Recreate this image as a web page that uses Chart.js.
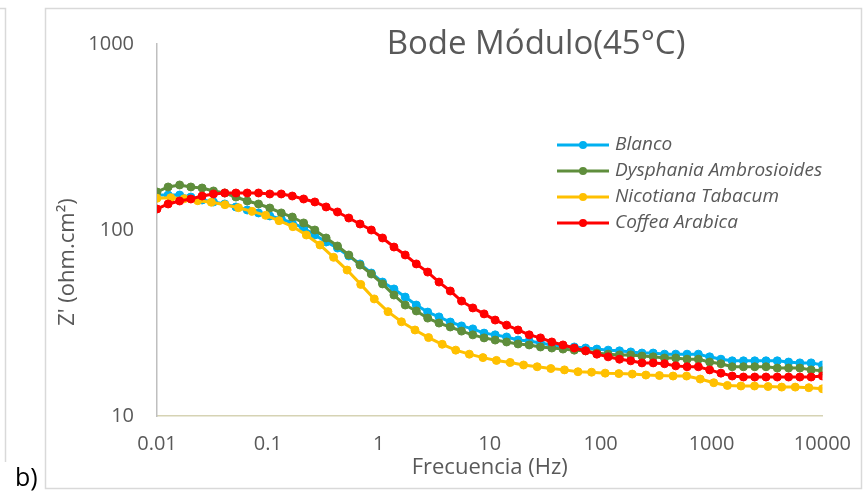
<!DOCTYPE html>
<html>
<head>
<meta charset="utf-8">
<script src="https://cdn.jsdelivr.net/npm/chart.js@4.4.0/dist/chart.umd.min.js"></script>
<style>
  html, body { margin: 0; padding: 0; background: #fff; }
  #wrap { width: 867px; height: 493px; }
</style>
</head>
<body>
<div id="wrap"><canvas id="bode" width="867" height="493"></canvas></div>
<script>
// frequency sweep (Hz), 60 points for Blanco / Dysphania / Coffea
const freq = [0.01, 0.0126, 0.016, 0.0202, 0.0255, 0.0323, 0.0408, 0.0515, 0.0651, 0.0823,
  0.104, 0.132, 0.166, 0.21, 0.265, 0.335, 0.424, 0.536, 0.677, 0.856,
  1.08, 1.37, 1.73, 2.18, 2.76, 3.49, 4.41, 5.57, 7.04, 8.9,
  11.2, 14.2, 18, 22.7, 28.7, 36.3, 45.8, 57.9, 73.2, 92.5,
  117, 148, 187, 236, 298, 377, 476, 602, 761, 962,
  1216, 1536, 1941, 2454, 3101, 3919, 4953, 6260, 7911, 10000];

// Nicotiana was measured with 50 points
const freqNt = [0.01, 0.0133, 0.0176, 0.0233, 0.0309, 0.041, 0.0543, 0.072, 0.0954, 0.126,
  0.168, 0.222, 0.295, 0.391, 0.518, 0.687, 0.91, 1.21, 1.6, 2.12,
  2.81, 3.73, 4.94, 6.55, 8.69, 11.5, 15.3, 20.2, 26.8, 35.6,
  47.2, 62.5, 82.9, 110, 146, 193, 256, 339, 450, 596,
  791, 1048, 1390, 1842, 2442, 3237, 4292, 5690, 7543, 10000];

const blanco = [154.2, 154.2, 154.2, 150.4, 145.0, 141.5, 138.0, 133.0, 128.1, 123.5,
  119.0, 114.6, 109.1, 102.5, 94.0, 86.2, 80.0, 72.5, 65.7, 58.7,
  52.5, 48.2, 43.6, 39.5, 36.2, 34.1, 32.0, 30.5, 29.4, 27.9,
  27.3, 26.6, 25.6, 25.3, 24.7, 24.1, 23.8, 23.5, 23.2, 22.9,
  22.6, 22.4, 22.1, 21.8, 21.8, 21.5, 21.5, 21.5, 21.5, 20.8,
  20.2, 19.8, 19.8, 19.8, 19.8, 19.8, 19.5, 19.3, 19.3, 18.8];

const dysphania = [160.1, 170.3, 174.6, 170.3, 168.2, 162.1, 158.1, 150.4, 143.2, 138.0,
  131.3, 123.5, 117.4, 109.1, 100.0, 90.6, 82.0, 73.4, 64.8, 58.0,
  51.3, 44.7, 39.5, 36.7, 33.6, 31.6, 30.1, 28.6, 27.3, 26.3,
  25.6, 25.0, 24.4, 24.1, 23.5, 23.2, 22.9, 22.6, 22.4, 21.8,
  21.5, 21.3, 21.3, 21.0, 20.8, 20.5, 20.5, 20.2, 20.2, 19.5,
  19.1, 18.4, 18.4, 18.4, 18.4, 18.1, 18.1, 18.1, 17.7, 17.5];

const nicotiana = [148.1, 149.2, 147.3, 143.7, 141.0, 136.8, 131.8, 126.0, 119.9, 112.2,
  104.2, 94.0, 83.1, 71.3, 60.9, 51.0, 42.6, 36.4, 32.1, 29.0,
  26.4, 24.3, 22.6, 21.5, 20.6, 19.9, 19.4, 18.8, 18.4, 18.0,
  17.7, 17.3, 17.2, 17.0, 16.9, 16.8, 16.6, 16.5, 16.4, 16.4,
  15.8, 15.1, 14.6, 14.5, 14.5, 14.4, 14.3, 14.3, 14.2, 14.0];

const coffea = [129.7, 138.0, 143.2, 146.8, 152.3, 156.2, 158.1, 158.1, 158.1, 158.1,
  156.2, 156.2, 152.3, 146.8, 141.5, 133.0, 125.0, 116.0, 107.7, 100.0,
  90.6, 81.0, 73.4, 65.7, 59.4, 52.5, 47.0, 41.5, 38.1, 35.4,
  32.8, 30.8, 29.0, 27.3, 26.3, 25.0, 24.1, 23.2, 22.4, 21.5,
  20.8, 20.2, 19.8, 19.3, 19.3, 19.1, 18.6, 18.4, 18.4, 17.7,
  17.0, 16.4, 16.2, 16.2, 16.2, 16.2, 16.2, 16.2, 16.2, 16.4];

const seriesNames = ['Blanco', 'Dysphania Ambrosioides', 'Nicotiana Tabacum', 'Coffea Arabica'];

const xTicks = [0.01, 0.1, 1, 10, 100, 1000, 10000];
const xTickLabels = ['0.01', '0.1', '1', '10', '100', '1000', '10000'];
const yTicks = [10, 100, 1000];
const yTickLabels = ['10', '100', '1000'];

const gray = '#595959';
const family = "'Open Sans', sans-serif";

function toPoints(xs, ys) {
  return ys.map((y, i) => ({ x: xs[i], y: y }));
}

function makeSet(label, xs, ys, color, order) {
  return {
    label: label,
    data: toPoints(xs, ys),
    borderColor: color,
    backgroundColor: color,
    borderWidth: 3,
    pointRadius: 4,
    pointBorderWidth: 1,
    pointBackgroundColor: color,
    pointBorderColor: color,
    tension: 0,
    order: order
  };
}

// frames, titles, legend and panel letter
const decor = {
  id: 'decor',
  beforeDraw(chart) {
    const ctx = chart.ctx;
    ctx.save();
    ctx.fillStyle = '#fff';
    ctx.fillRect(0, 0, chart.width, chart.height);
    ctx.strokeStyle = '#d9d9d9';
    ctx.lineWidth = 1.5;
    ctx.strokeRect(45.5, 8.5, 816, 480);
    ctx.beginPath();
    ctx.moveTo(0, 8.5);
    ctx.lineTo(5.5, 8.5);
    ctx.lineTo(5.5, 462);
    ctx.stroke();
    ctx.restore();
  },
  afterDraw(chart) {
    const ctx = chart.ctx;
    ctx.save();
    ctx.fillStyle = gray;
    ctx.textBaseline = 'middle';

    ctx.textAlign = 'center';
    ctx.font = '33px ' + family;
    ctx.fillText('Bode Módulo(45°C)', 536, 45);

    ctx.save();
    ctx.translate(68, 262);
    ctx.rotate(-Math.PI / 2);
    ctx.font = '22px ' + family;
    ctx.fillText("Z' (ohm.cm²)", 0, 0);
    ctx.restore();

    // legend
    ctx.textAlign = 'left';
    ctx.font = 'italic 19px ' + family;
    chart.data.datasets.forEach((ds, i) => {
      const y = 145 + i * 26;
      ctx.strokeStyle = ds.borderColor;
      ctx.lineWidth = 3;
      ctx.beginPath();
      ctx.moveTo(557, y);
      ctx.lineTo(609, y);
      ctx.stroke();
      ctx.fillStyle = ds.borderColor;
      ctx.beginPath();
      ctx.arc(583, y, 4, 0, Math.PI * 2);
      ctx.fill();
      ctx.fillStyle = gray;
      ctx.fillText(ds.label, 615, y);
    });

    ctx.fillStyle = '#000';
    ctx.font = '25px ' + family;
    ctx.fillText('b)', 15, 479);
    ctx.restore();
  }
};

const ctx = document.getElementById('bode').getContext('2d');

const chart = new Chart(ctx, {
  type: 'line',
  data: {
    datasets: [
      makeSet(seriesNames[0], freq, blanco, '#00B0F0', 4),
      makeSet(seriesNames[1], freq, dysphania, '#5F8E3C', 3),
      makeSet(seriesNames[2], freqNt, nicotiana, '#FFC000', 2),
      makeSet(seriesNames[3], freq, coffea, '#FF0000', 1)
    ]
  },
  options: {
    responsive: false,
    devicePixelRatio: 1,
    animation: false,
    layout: { padding: { left: 0, right: 43, top: 44, bottom: 0 } },
    plugins: {
      legend: { display: false },
      tooltip: { enabled: false },
      title: { display: false }
    },
    scales: {
      x: {
        type: 'logarithmic',
        position: 'bottom',
        min: 0.01,
        max: 10000,
        afterBuildTicks: (s) => { s.ticks = xTicks.map((v) => ({ value: v })); },
        afterFit: (s) => { s.height = 77; },
        grid: { display: false, drawTicks: false },
        border: { display: true, color: '#d6d3b4', width: 1.5 },
        ticks: {
          color: gray,
          font: { family: family, size: 20 },
          padding: 16,
          maxRotation: 0,
          autoSkip: false,
          callback: (v, i) => xTickLabels[i]
        },
        title: {
          display: true,
          text: 'Frecuencia (Hz)',
          color: gray,
          font: { family: family, size: 22 },
          padding: { top: 0, bottom: 12 }
        }
      },
      y: {
        type: 'logarithmic',
        min: 10,
        max: 1000,
        afterBuildTicks: (s) => { s.ticks = yTicks.map((v) => ({ value: v })); },
        afterFit: (s) => { s.width = 157; },
        grid: { display: false, drawTicks: false },
        border: { display: true, color: '#bfbfbf', width: 1.5 },
        ticks: {
          color: gray,
          font: { family: family, size: 20 },
          padding: 23,
          autoSkip: false,
          callback: (v, i) => yTickLabels[i]
        }
      }
    }
  },
  plugins: [decor]
});
</script>
</body>
</html>
